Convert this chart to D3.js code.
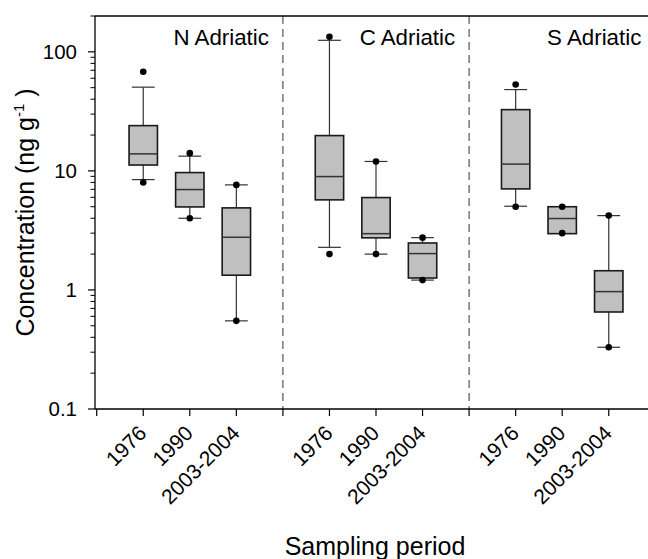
<!DOCTYPE html>
<html>
<head>
<meta charset="utf-8">
<script src="https://cdn.jsdelivr.net/npm/d3@7/dist/d3.min.js"></script>
<style>
  html, body { margin: 0; padding: 0; background: #fff; }
  svg { display: block; font-family: "Liberation Sans", Arial, sans-serif; }
</style>
</head>
<body>
<svg id="chart" width="648" height="559"></svg>
<script>
// Regions (panels) and sampling periods within each panel
const regions = ["N Adriatic", "C Adriatic", "S Adriatic"];
const periods = ["1976", "1990", "2003-2004"];

// Box statistics, one entry per (region, period), in panel order
const lowPoint    = [8.0, 4.0, 0.55,   2.0, 2.0, 1.21,   5.0, 3.0, 0.33];
const whiskerLow  = [8.45, 4.0, 0.55,  2.28, 2.0, 1.21,  5.05, 3.0, 0.33];
const q1          = [11.2, 4.98, 1.33, 5.71, 2.74, 1.26, 7.06, 2.97, 0.653];
const median      = [13.9, 6.97, 2.77, 8.96, 2.97, 2.02, 11.4, 3.98, 0.968];
const q3          = [24.0, 9.68, 4.89, 19.8, 5.97, 2.48, 32.7, 5.0, 1.45];
const whiskerHigh = [50.5, 13.3, 7.63, 125, 12.0, 2.75,  48.2, 5.0, 4.21];
const highPoint   = [68, 14.1, 7.63,   134, 12.0, 2.75,  53.1, 5.0, 4.21];

// Y axis tick labels
const yTickValues = [0.1, 1, 10, 100];
const yTickLabels = ["0.1", "1", "10", "100"];

const svg = d3.select("#chart");

// Category slots: 0 | 1 2 3 | 4 | 5 6 7 | 8 | 9 10 11 | 12
const x = d3.scaleLinear().domain([0, 12]).range([96.7, 655.3]);
const y = d3.scaleLog().domain([0.1, 200]).range([409, 16]);

const frameLeft = 95, frameRight = 700, frameTop = y(200), frameBottom = y(0.1);

// Build box records
const boxes = [];
regions.forEach((r, ri) => {
  periods.forEach((p, pi) => {
    const k = ri * 3 + pi;
    boxes.push({
      region: r, period: p, slot: ri * 4 + pi + 1,
      lo: lowPoint[k], wl: whiskerLow[k], q1: q1[k], med: median[k],
      q3: q3[k], wh: whiskerHigh[k], hi: highPoint[k]
    });
  });
});

// Panel separators (dashed)
svg.append("g").selectAll("line").data([4, 8]).join("line")
  .attr("x1", d => x(d)).attr("x2", d => x(d))
  .attr("y1", frameTop).attr("y2", frameBottom)
  .attr("stroke", "#555").attr("stroke-width", 1.2)
  .attr("stroke-dasharray", "8,5");

// Frame: top border
svg.append("line")
  .attr("x1", frameLeft).attr("x2", frameRight)
  .attr("y1", frameTop).attr("y2", frameTop)
  .attr("stroke", "#000").attr("stroke-width", 1.3);

// Y axis (log) with minor ticks
const yAxis = svg.append("g").attr("transform", `translate(${frameLeft},0)`);
yAxis.append("line")
  .attr("x1", 0).attr("x2", 0).attr("y1", frameTop).attr("y2", frameBottom)
  .attr("stroke", "#000").attr("stroke-width", 1.3);
const minorVals = [];
for (let e = -1; e <= 2; e++) {
  for (let m = 2; m <= 9; m++) {
    const v = m * Math.pow(10, e);
    if (v <= 200) minorVals.push(v);
  }
}
yAxis.selectAll("line.minor").data(minorVals).join("line")
  .attr("class", "minor")
  .attr("x1", -4.5).attr("x2", 0)
  .attr("y1", d => y(d)).attr("y2", d => y(d))
  .attr("stroke", "#000").attr("stroke-width", 1);
yAxis.selectAll("line.major").data(yTickValues).join("line")
  .attr("class", "major")
  .attr("x1", -7).attr("x2", 0)
  .attr("y1", d => y(d)).attr("y2", d => y(d))
  .attr("stroke", "#000").attr("stroke-width", 1.2);
yAxis.selectAll("text").data(yTickValues).join("text")
  .attr("x", -18).attr("y", d => y(d))
  .attr("dy", "0.36em")
  .attr("text-anchor", "end")
  .attr("font-size", 20.5)
  .attr("fill", "#000")
  .text((d, i) => yTickLabels[i]);

// X axis
const xAxis = svg.append("g").attr("transform", `translate(0,${frameBottom})`);
xAxis.append("line")
  .attr("x1", frameLeft).attr("x2", frameRight).attr("y1", 0).attr("y2", 0)
  .attr("stroke", "#000").attr("stroke-width", 1.3);
xAxis.selectAll("line.tick").data(d3.range(0, 13)).join("line")
  .attr("class", "tick")
  .attr("x1", d => x(d)).attr("x2", d => x(d))
  .attr("y1", 0).attr("y2", 7)
  .attr("stroke", "#000").attr("stroke-width", 1.2);
xAxis.selectAll("text").data(boxes).join("text")
  .attr("transform", d => `translate(${x(d.slot) - 6},15) rotate(-45)`)
  .attr("text-anchor", "end")
  .attr("dy", "0.71em")
  .attr("font-size", 21)
  .attr("fill", "#000")
  .text(d => d.period);

// Box plots
const halfBox = (x(1) - x(0)) * 0.305;
const halfCap = (x(1) - x(0)) * 0.245;
const g = svg.append("g").selectAll("g").data(boxes).join("g");

// whiskers
g.append("line")
  .attr("x1", d => x(d.slot)).attr("x2", d => x(d.slot))
  .attr("y1", d => y(d.q3)).attr("y2", d => y(d.wh))
  .attr("stroke", "#333").attr("stroke-width", 1.2);
g.append("line")
  .attr("x1", d => x(d.slot)).attr("x2", d => x(d.slot))
  .attr("y1", d => y(d.q1)).attr("y2", d => y(d.wl))
  .attr("stroke", "#333").attr("stroke-width", 1.2);
// caps
g.append("line")
  .attr("x1", d => x(d.slot) - halfCap).attr("x2", d => x(d.slot) + halfCap)
  .attr("y1", d => y(d.wh)).attr("y2", d => y(d.wh))
  .attr("stroke", "#333").attr("stroke-width", 1.2);
g.append("line")
  .attr("x1", d => x(d.slot) - halfCap).attr("x2", d => x(d.slot) + halfCap)
  .attr("y1", d => y(d.wl)).attr("y2", d => y(d.wl))
  .attr("stroke", "#333").attr("stroke-width", 1.2);
// box
g.append("rect")
  .attr("x", d => x(d.slot) - halfBox)
  .attr("width", halfBox * 2)
  .attr("y", d => y(d.q3))
  .attr("height", d => y(d.q1) - y(d.q3))
  .attr("fill", "#c0c0c0")
  .attr("stroke", "#1a1a1a").attr("stroke-width", 1.6);
// median
g.append("line")
  .attr("x1", d => x(d.slot) - halfBox).attr("x2", d => x(d.slot) + halfBox)
  .attr("y1", d => y(d.med)).attr("y2", d => y(d.med))
  .attr("stroke", "#333").attr("stroke-width", 1.5);
// extreme points
g.append("circle")
  .attr("cx", d => x(d.slot)).attr("cy", d => y(d.hi)).attr("r", 3.3)
  .attr("fill", "#000");
g.append("circle")
  .attr("cx", d => x(d.slot)).attr("cy", d => y(d.lo)).attr("r", 3.3)
  .attr("fill", "#000");

// Panel labels
svg.append("g").selectAll("text").data(regions).join("text")
  .attr("x", (d, i) => x(4 * (i + 1)) - 14)
  .attr("y", 44.5)
  .attr("text-anchor", "end")
  .attr("font-size", 22.3)
  .attr("fill", "#000")
  .text(d => d);

// Axis titles
svg.append("text")
  .attr("x", 375).attr("y", 555)
  .attr("text-anchor", "middle")
  .attr("font-size", 25)
  .attr("fill", "#000")
  .text("Sampling period");

const yt = svg.append("text")
  .attr("transform", `translate(34,${(frameTop + frameBottom) / 2}) rotate(-90)`)
  .attr("text-anchor", "middle")
  .attr("font-size", 25)
  .attr("fill", "#000");
yt.append("tspan").text("Concentration (ng g");
yt.append("tspan").attr("font-size", 15).attr("dy", -10).text("-1");
yt.append("tspan").attr("dy", 10).text(" )");
</script>
</body>
</html>
